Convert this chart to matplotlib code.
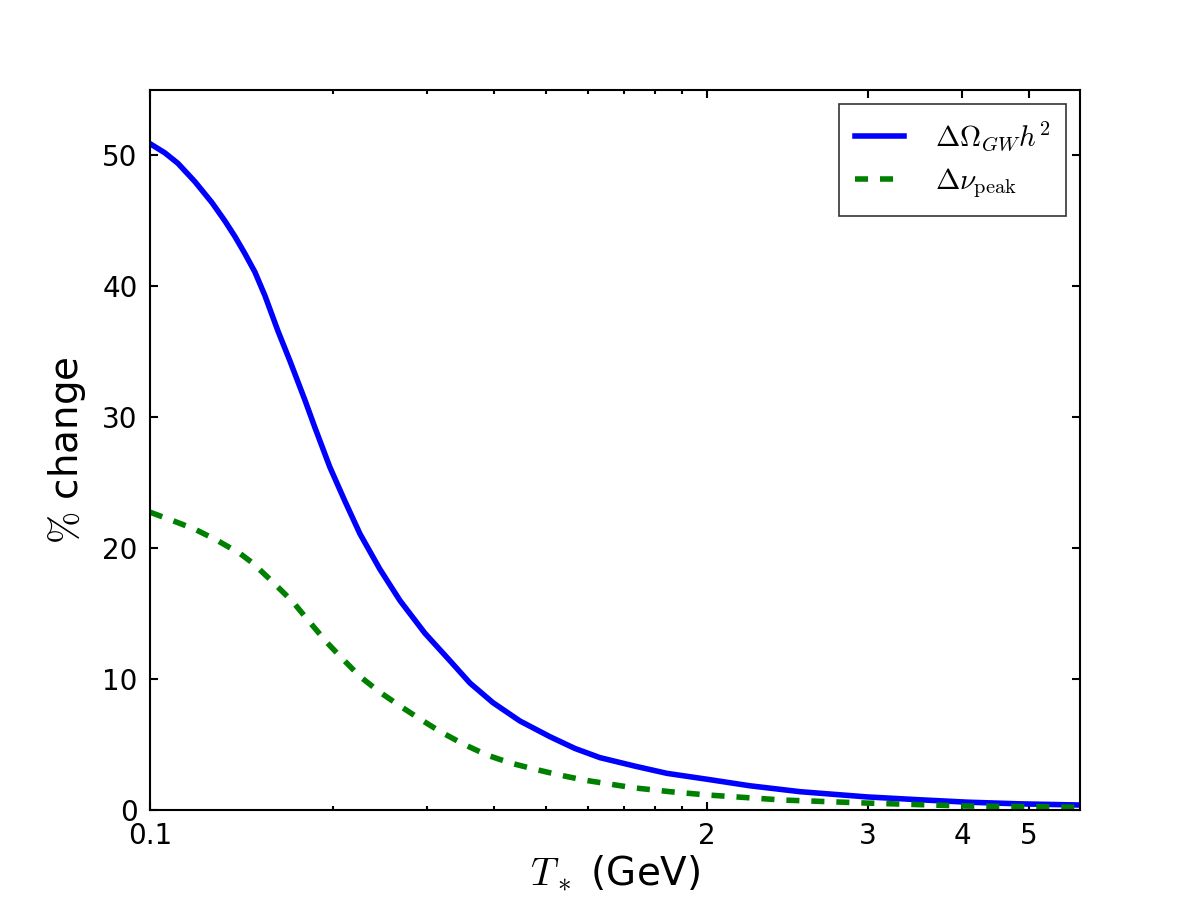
"""Cambio porcentual de la senal GW frente a T_* (estilo clasico)."""

import matplotlib

matplotlib.use("Agg")
import matplotlib.pyplot as plt

plt.rcParams["mathtext.fontset"] = "cm"
plt.rcParams["font.family"] = "DejaVu Sans"
plt.rcParams["xtick.direction"] = "in"
plt.rcParams["ytick.direction"] = "in"

# ─── datos ───────────────────────────────────────────────────────────────────
# eje x en escala log (coordenada de dibujo)
omega_x = [0.0910, 0.0970, 0.1026, 0.1104, 0.1188, 0.1256, 0.1312, 0.1369,
           0.1429, 0.1492, 0.1578, 0.1662, 0.1773, 0.1851, 0.1973, 0.2105,
           0.2246, 0.2447, 0.2668, 0.2971, 0.3309, 0.3606, 0.3981, 0.4471,
           0.5088, 0.5666, 0.6310, 0.7336, 0.8417, 1.0, 1.203, 1.492,
           1.991, 2.500, 3.062, 3.846, 4.98]
omega_y = [50.9, 50.2, 49.4, 48.0, 46.4, 45.0, 43.8, 42.5,
           41.1, 39.3, 36.6, 34.3, 31.3, 29.2, 26.2, 23.6,
           21.1, 18.4, 16.0, 13.5, 11.4, 9.7, 8.2, 6.8,
           5.6, 4.7, 4.0, 3.35, 2.8, 2.35, 1.85, 1.4,
           1.0, 0.78, 0.6, 0.47, 0.38]

nu_x = [0.0910, 0.1004, 0.1104, 0.1214, 0.1340, 0.1417, 0.1545, 0.1683,
        0.1788, 0.1948, 0.2061, 0.2246, 0.2447, 0.2668, 0.2908, 0.3170,
        0.3499, 0.3880, 0.4282, 0.4729, 0.5266, 0.5867, 0.7278, 0.8528,
        1.0, 1.387, 1.991, 3.062, 4.57, 4.98]
nu_y = [22.75, 22.1, 21.45, 20.6, 19.6, 18.85, 17.4, 15.9,
        14.6, 12.8, 11.75, 10.2, 9.0, 7.95, 6.95, 6.0,
        5.05, 4.2, 3.6, 3.15, 2.7, 2.3, 1.7, 1.4,
        1.15, 0.76, 0.53, 0.3, 0.23, 0.2]

x_ticks = [0.091, 1, 2, 3, 4]
x_ticklabels = ["0.1", "2", "3", "4", "5"]
x_minor = [0.2, 0.3, 0.4, 0.5, 0.6, 0.7, 0.8, 0.9]
y_ticks = [0, 10, 20, 30, 40, 50]


def main() -> None:
    fig, ax = plt.subplots(figsize=(12, 9), dpi=100)
    fig.subplots_adjust(left=0.125, right=0.9, bottom=0.1, top=0.9)

    ax.plot(omega_x, omega_y, color="#0000ff", linewidth=4,
            label=r"$\Delta\Omega_{GW}h^2$")
    ax.plot(nu_x, nu_y, color="#008000", linewidth=4, dashes=(2.35, 2.15),
            label=r"$\Delta\nu_{\rm peak}$")

    ax.set_xscale("log")
    ax.set_xlim(0.091, 4.98)
    ax.set_ylim(0, 55)
    ax.set_xticks(x_ticks)
    ax.set_xticklabels(x_ticklabels)
    ax.set_xticks(x_minor, minor=True)
    ax.set_xticklabels([], minor=True)
    ax.set_yticks(y_ticks)

    ax.tick_params(which="both", top=True, right=True, labelsize=20, pad=9)
    ax.tick_params(which="major", length=6, width=1.5)
    ax.tick_params(which="minor", length=3, width=1.5)
    for s in ax.spines.values():
        s.set_linewidth(1.5)

    ax.set_xlabel(r"$T_*$ (GeV)", fontsize=28, labelpad=2)
    ax.set_ylabel(r"$\%$ change", fontsize=28, labelpad=10)

    leg = ax.legend(loc="upper right", fontsize=21, fancybox=False,
                    handlelength=1.67, borderaxespad=0.48, borderpad=0.55,
                    labelspacing=0.45, handletextpad=1.06)
    leg.get_frame().set_edgecolor("black")
    leg.get_frame().set_linewidth(1.2)

    fig.savefig("out.png", dpi=100, facecolor="white")


if __name__ == "__main__":
    main()
